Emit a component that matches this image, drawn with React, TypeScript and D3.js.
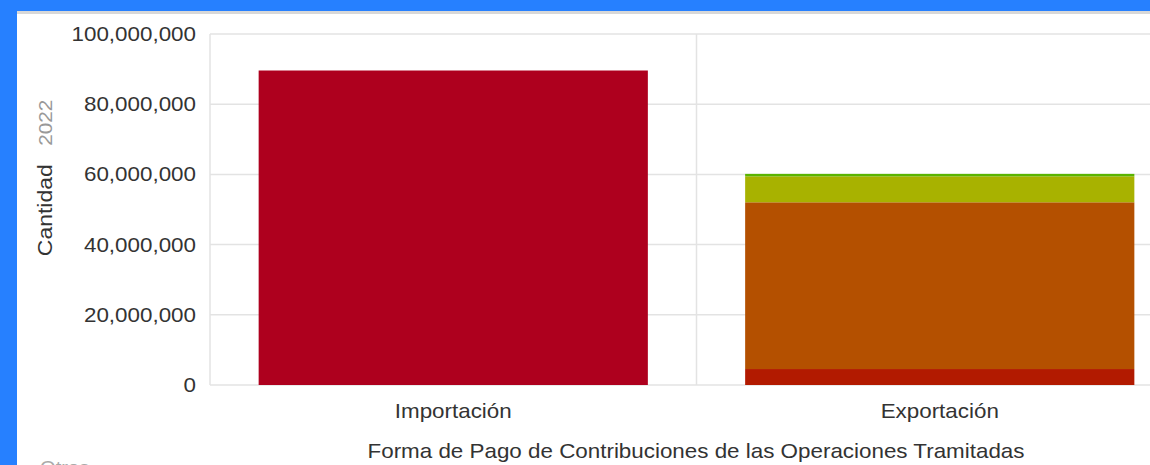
import React from "react";
import * as d3 from "d3";

const categories = ["Importación", "Exportación"];
const seriesNames = ["Serie A", "Serie B", "Serie C", "Serie D", "Serie E"];
const serieA = [89600000, 0];
const serieB = [0, 4550000];
const serieC = [0, 47500000];
const serieD = [0, 7400000];
const serieE = [0, 700000];
const seriesColors = ["#AE001E", "#B21A00", "#B45000", "#A8B200", "#5AB400"];
const yTicks = [0, 20000000, 40000000, 60000000, 80000000, 100000000];

const W = 1150;
const H = 465;
const plotLeft = 210;
const plotRight = 1183;
const plotTop = 34;
const plotBottom = 385;
const SX = 1.12;

function SText(props: {
  x: number;
  y: number;
  anchor?: string;
  size?: number;
  fill?: string;
  rotate?: number;
  dy?: string;
  children: any;
}) {
  const { x, y, anchor = "start", size = 20, fill = "#333", rotate = 0, dy } = props;
  return (
    <g transform={`translate(${x},${y}) rotate(${rotate}) scale(${SX},1)`}>
      <text x={0} y={0} dy={dy} textAnchor={anchor} fontSize={size} fill={fill}>
        {props.children}
      </text>
    </g>
  );
}

export default function App() {
  const x = d3
    .scaleBand<string>()
    .domain(categories)
    .range([plotLeft, plotRight])
    .paddingInner(0.2)
    .paddingOuter(0.1);
  const y = d3.scaleLinear().domain([0, 100000000]).range([plotBottom, plotTop]);

  const allSeries = [serieA, serieB, serieC, serieD, serieE];
  const rows = categories.map((c, i) => {
    const r: any = { cat: c };
    seriesNames.forEach((s, j) => (r[s] = allSeries[j][i]));
    return r;
  });
  const stacked = d3.stack<any>().keys(seriesNames)(rows);
  const fmt = d3.format(",");
  const step = x.step();
  const boundaries = [plotLeft, plotLeft + step, plotLeft + 2 * step];
  const font = "'Liberation Sans', Arial, Helvetica, sans-serif";

  return (
    <svg
      width={W}
      height={H}
      style={{ position: "absolute", left: 0, top: 0, background: "#fff" }}
      fontFamily={font}
    >
      {/* frame */}
      <rect x={0} y={0} width={W} height={H} fill="#fff" />
      <rect x={0} y={11} width={W} height={3} fill="#d8d8d8" />
      <rect x={0} y={0} width={W} height={11} fill="#2680FF" />
      <rect x={0} y={0} width={17} height={H} fill="#2680FF" />

      {/* grid */}
      {yTicks.map((t) => (
        <line
          key={"g" + t}
          x1={plotLeft}
          x2={plotRight}
          y1={y(t)}
          y2={y(t)}
          stroke="#e3e3e3"
          strokeWidth={1.5}
        />
      ))}
      {boundaries.map((b, i) => (
        <line
          key={"v" + i}
          x1={b}
          x2={b}
          y1={plotTop}
          y2={plotBottom}
          stroke="#e3e3e3"
          strokeWidth={1.5}
        />
      ))}

      {/* bars */}
      {stacked.map((layer, j) => (
        <g key={layer.key} fill={seriesColors[j]}>
          {layer.map((d, i) =>
            d[1] - d[0] > 0 ? (
              <rect
                key={i}
                x={x(categories[i])!}
                width={x.bandwidth()}
                y={y(d[1])}
                height={y(d[0]) - y(d[1])}
              />
            ) : null
          )}
        </g>
      ))}

      {/* y tick labels */}
      {yTicks.map((t) => (
        <SText key={"t" + t} x={196} y={y(t)} dy="0.35em" anchor="end" size={20}>
          {fmt(t)}
        </SText>
      ))}

      {/* y title */}
      <g transform={`translate(52, 178) rotate(-90) scale(1.15,1)`}>
        <text x={0} y={0} textAnchor="middle" fontSize={20} fill="#333">
          <tspan>Cantidad</tspan>
          <tspan dx={16} fill="#999" fontSize={18}>
            2022
          </tspan>
        </text>
      </g>

      {/* x labels */}
      {categories.map((c) => (
        <SText key={"x" + c} x={x(c)! + x.bandwidth() / 2} y={418} anchor="middle" size={20}>
          {c}
        </SText>
      ))}
      <SText x={696} y={458} anchor="middle" size={20}>
        Forma de Pago de Contribuciones de las Operaciones Tramitadas
      </SText>
      <SText x={40} y={474} size={18} fill="#aaa">
        Otros
      </SText>
    </svg>
  );
}
